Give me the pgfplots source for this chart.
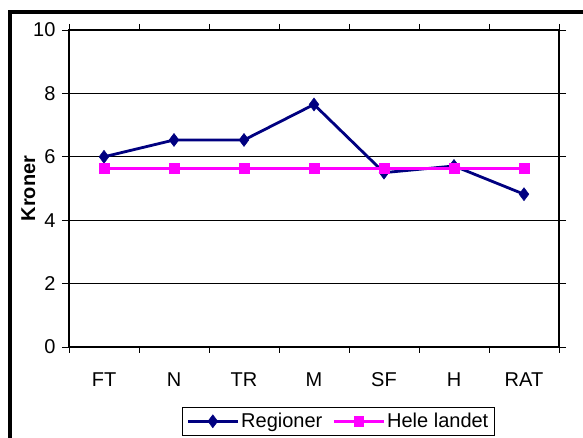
\documentclass[border=0pt]{standalone}
\usepackage{pgfplots}
\pgfplotsset{compat=1.18}
\usepackage{fontspec}
\setmainfont{Liberation Sans}
\definecolor{navyR}{RGB}{0,0,128}
\definecolor{magH}{RGB}{255,0,255}
\begin{document}
\begin{tikzpicture}
\useasboundingbox (0,0) rectangle (583pt,438pt);
\draw[line width=3.5pt] (10pt,-30pt) -- (10pt,426pt) -- (640pt,426pt);
\begin{axis}[
  at={(69pt,91pt)}, anchor=south west,
  scale only axis, width=490pt, height=317pt,
  font=\fontsize{20}{23}\selectfont,
  /pgf/number format/assume math mode=true,
  xmin=0.5, xmax=7.5, ymin=0, ymax=10,
  xtick={1,2,3,4,5,6,7},
  xticklabels={FT,N,TR,M,SF,H,RAT},
  major x tick style={draw=none},
  minor xtick={0.5,1.5,2.5,3.5,4.5,5.5,6.5,7.5},
  minor tick length=6pt,
  ytick={0,2,4,6,8,10},
  major tick length=7pt,
  tick align=outside,
  y tick style={black, line width=0.8pt},
  minor x tick style={black, line width=0.8pt},
  ymajorgrids,
  grid style={black, line width=0.8pt},
  axis line style={black, line width=1.2pt},
  xticklabel style={yshift=-15pt},
  yticklabel style={xshift=-3pt},
  ylabel={\textbf{Kroner}},
  ylabel style={at={(axis description cs:-0.083,0.5)}, anchor=center, font=\fontsize{20}{23}\selectfont},
  legend style={at={(rel axis cs:0.2306,-0.189)}, anchor=north west, legend columns=2,
    draw=black, line width=0.8pt, font=\fontsize{20}{23}\selectfont,
    inner sep=4pt, /tikz/every even column/.append style={column sep=8pt}},
  legend image code/.code={
    \draw[#1] (0pt,0pt) -- (50pt,0pt);
    \draw[#1, mark repeat=1] plot coordinates {(25pt,0pt)};
  },
]
\addplot[navyR, line width=2.8pt, mark=diamond*, mark size=6.5pt, mark options={solid, line width=0.5pt}]
  coordinates {(1,6.0) (2,6.53) (3,6.53) (4,7.65) (5,5.50) (6,5.71) (7,4.82)};
\addlegendentry{Regioner}
\addplot[magH, line width=2.8pt, mark=square*, mark size=4.8pt, mark options={solid, line width=0.5pt}]
  coordinates {(1,5.64) (2,5.64) (3,5.64) (4,5.64) (5,5.64) (6,5.64) (7,5.64)};
\addlegendentry{Hele landet}
\end{axis}
\end{tikzpicture}
\end{document}
